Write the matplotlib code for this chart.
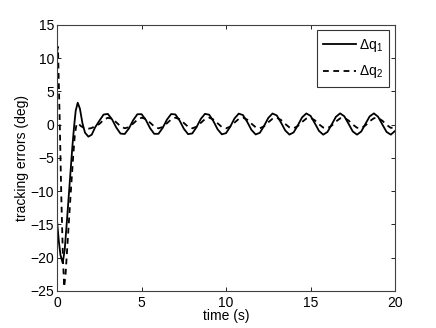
import numpy as np
import matplotlib
matplotlib.use("Agg")
import matplotlib.pyplot as plt

# transient part
t_start_q1 = [0, 0.1, 0.2, 0.33, 0.45, 0.6, 0.75, 0.9, 1.0, 1.1, 1.22, 1.35, 1.5, 1.65, 1.85, 2.05, 2.25]
dq1_start = [-14.6, -17.5, -19.6, -20.8, -18.8, -13.8, -8.6, -3.4, -0.4, 2.1, 3.3, 2.4, 0.2, -1.2, -1.8, -1.5, -0.4]

t_start_q2 = [0, 0.05, 0.15, 0.25, 0.35, 0.42, 0.5, 0.65, 0.8, 0.95, 1.05, 1.15, 1.25, 1.4, 1.6, 1.85, 2.05, 2.25]
dq2_start = [11.0, 11.7, 1.0, -11.0, -20.5, -24.4, -22.5, -16.5, -10.5, -4.8, -1.5, 0.1, 0.2, -0.2, -0.5, -0.6, -0.5, -0.2]

# steady oscillation, sampled every 0.25 s from 2.5 s to 20 s
t_steady = np.arange(2.5, 20.01, 0.25)
dq1_steady = [0.58, 1.52, 1.62, 0.81, -0.42, -1.34, -1.40, -0.57, 0.67, 1.57,
              1.58, 0.72, -0.52, -1.38, -1.37, -0.47, 0.76, 1.60, 1.54, 0.62,
              -0.61, -1.42, -1.32, -0.38, 0.85, 1.63, 1.50, 0.53, -0.70, -1.45,
              -1.27, -0.28, 0.94, 1.66, 1.45, 0.43, -0.78, -1.47, -1.22, -0.18,
              1.02, 1.68, 1.39, 0.33, -0.86, -1.49, -1.16, -0.08, 1.10, 1.69,
              1.33, 0.23, -0.94, -1.50, -1.10, 0.02, 1.18, 1.70, 1.26, 0.13,
              -1.02, -1.50, -1.03, 0.12, 1.25, 1.70, 1.19, 0.03, -1.09, -1.50,
              -0.95]
dq2_steady = [0.11, 0.71, 1.04, 0.89, 0.36, -0.23, -0.54, -0.38, 0.16, 0.75,
              1.05, 0.86, 0.31, -0.27, -0.55, -0.35, 0.21, 0.79, 1.05, 0.83,
              0.26, -0.31, -0.55, -0.31, 0.26, 0.83, 1.05, 0.79, 0.21, -0.35,
              -0.55, -0.28, 0.31, 0.86, 1.05, 0.76, 0.16, -0.38, -0.54, -0.24,
              0.36, 0.89, 1.04, 0.72, 0.11, -0.41, -0.54, -0.20, 0.41, 0.92,
              1.03, 0.67, 0.06, -0.43, -0.53, -0.15, 0.46, 0.95, 1.02, 0.63,
              0.02, -0.46, -0.51, -0.11, 0.51, 0.97, 1.00, 0.60, -0.02, -0.48,
              -0.40]

xticks = [0, 5, 10, 15, 20]
yticks = [-25, -20, -15, -10, -5, 0, 5, 10, 15]


def main():
    plt.rcParams['font.family'] = ['Liberation Sans', 'DejaVu Sans']
    plt.rcParams['mathtext.fontset'] = 'custom'
    plt.rcParams['mathtext.rm'] = 'Liberation Sans'
    plt.rcParams['mathtext.it'] = 'Liberation Sans'

    t1 = np.concatenate([t_start_q1, t_steady])
    q1 = np.concatenate([dq1_start, dq1_steady])
    t2 = np.concatenate([t_start_q2, t_steady])
    q2 = np.concatenate([dq2_start, dq2_steady])

    fig = plt.figure(figsize=(4.36, 3.28), dpi=100)
    ax = fig.add_axes([0.131, 0.113, 0.775, 0.811])

    ax.plot(t1, q1, color='black', lw=1.3, label=r'$\Delta\mathrm{q}_1$')
    ax.plot(t2, q2, color='black', lw=1.3, linestyle=(0, (3.2, 2.5)), label=r'$\Delta\mathrm{q}_2$')

    ax.set_xlim(0, 20)
    ax.set_ylim(-25, 15)
    ax.set_xticks(xticks)
    ax.set_yticks(yticks)
    ax.tick_params(direction='in', top=True, right=True, labelsize=10, length=3, width=0.6, pad=2)
    ax.tick_params(axis='x', pad=4)
    for s in ax.spines.values():
        s.set_linewidth(0.8)
        s.set_color('#404040')

    ax.set_xlabel("time (s)", fontsize=10, labelpad=-1)
    ax.set_ylabel("tracking errors (deg)", fontsize=10, labelpad=1)

    leg = ax.legend(loc='upper right', fontsize=10, frameon=True, fancybox=False,
                    handlelength=2.4, handletextpad=0.2, borderpad=0.45,
                    labelspacing=0.7, borderaxespad=0.4)
    leg.get_frame().set_edgecolor('black')
    leg.get_frame().set_linewidth(0.8)

    fig.savefig("out.png", dpi=100)


if __name__ == "__main__":
    main()
